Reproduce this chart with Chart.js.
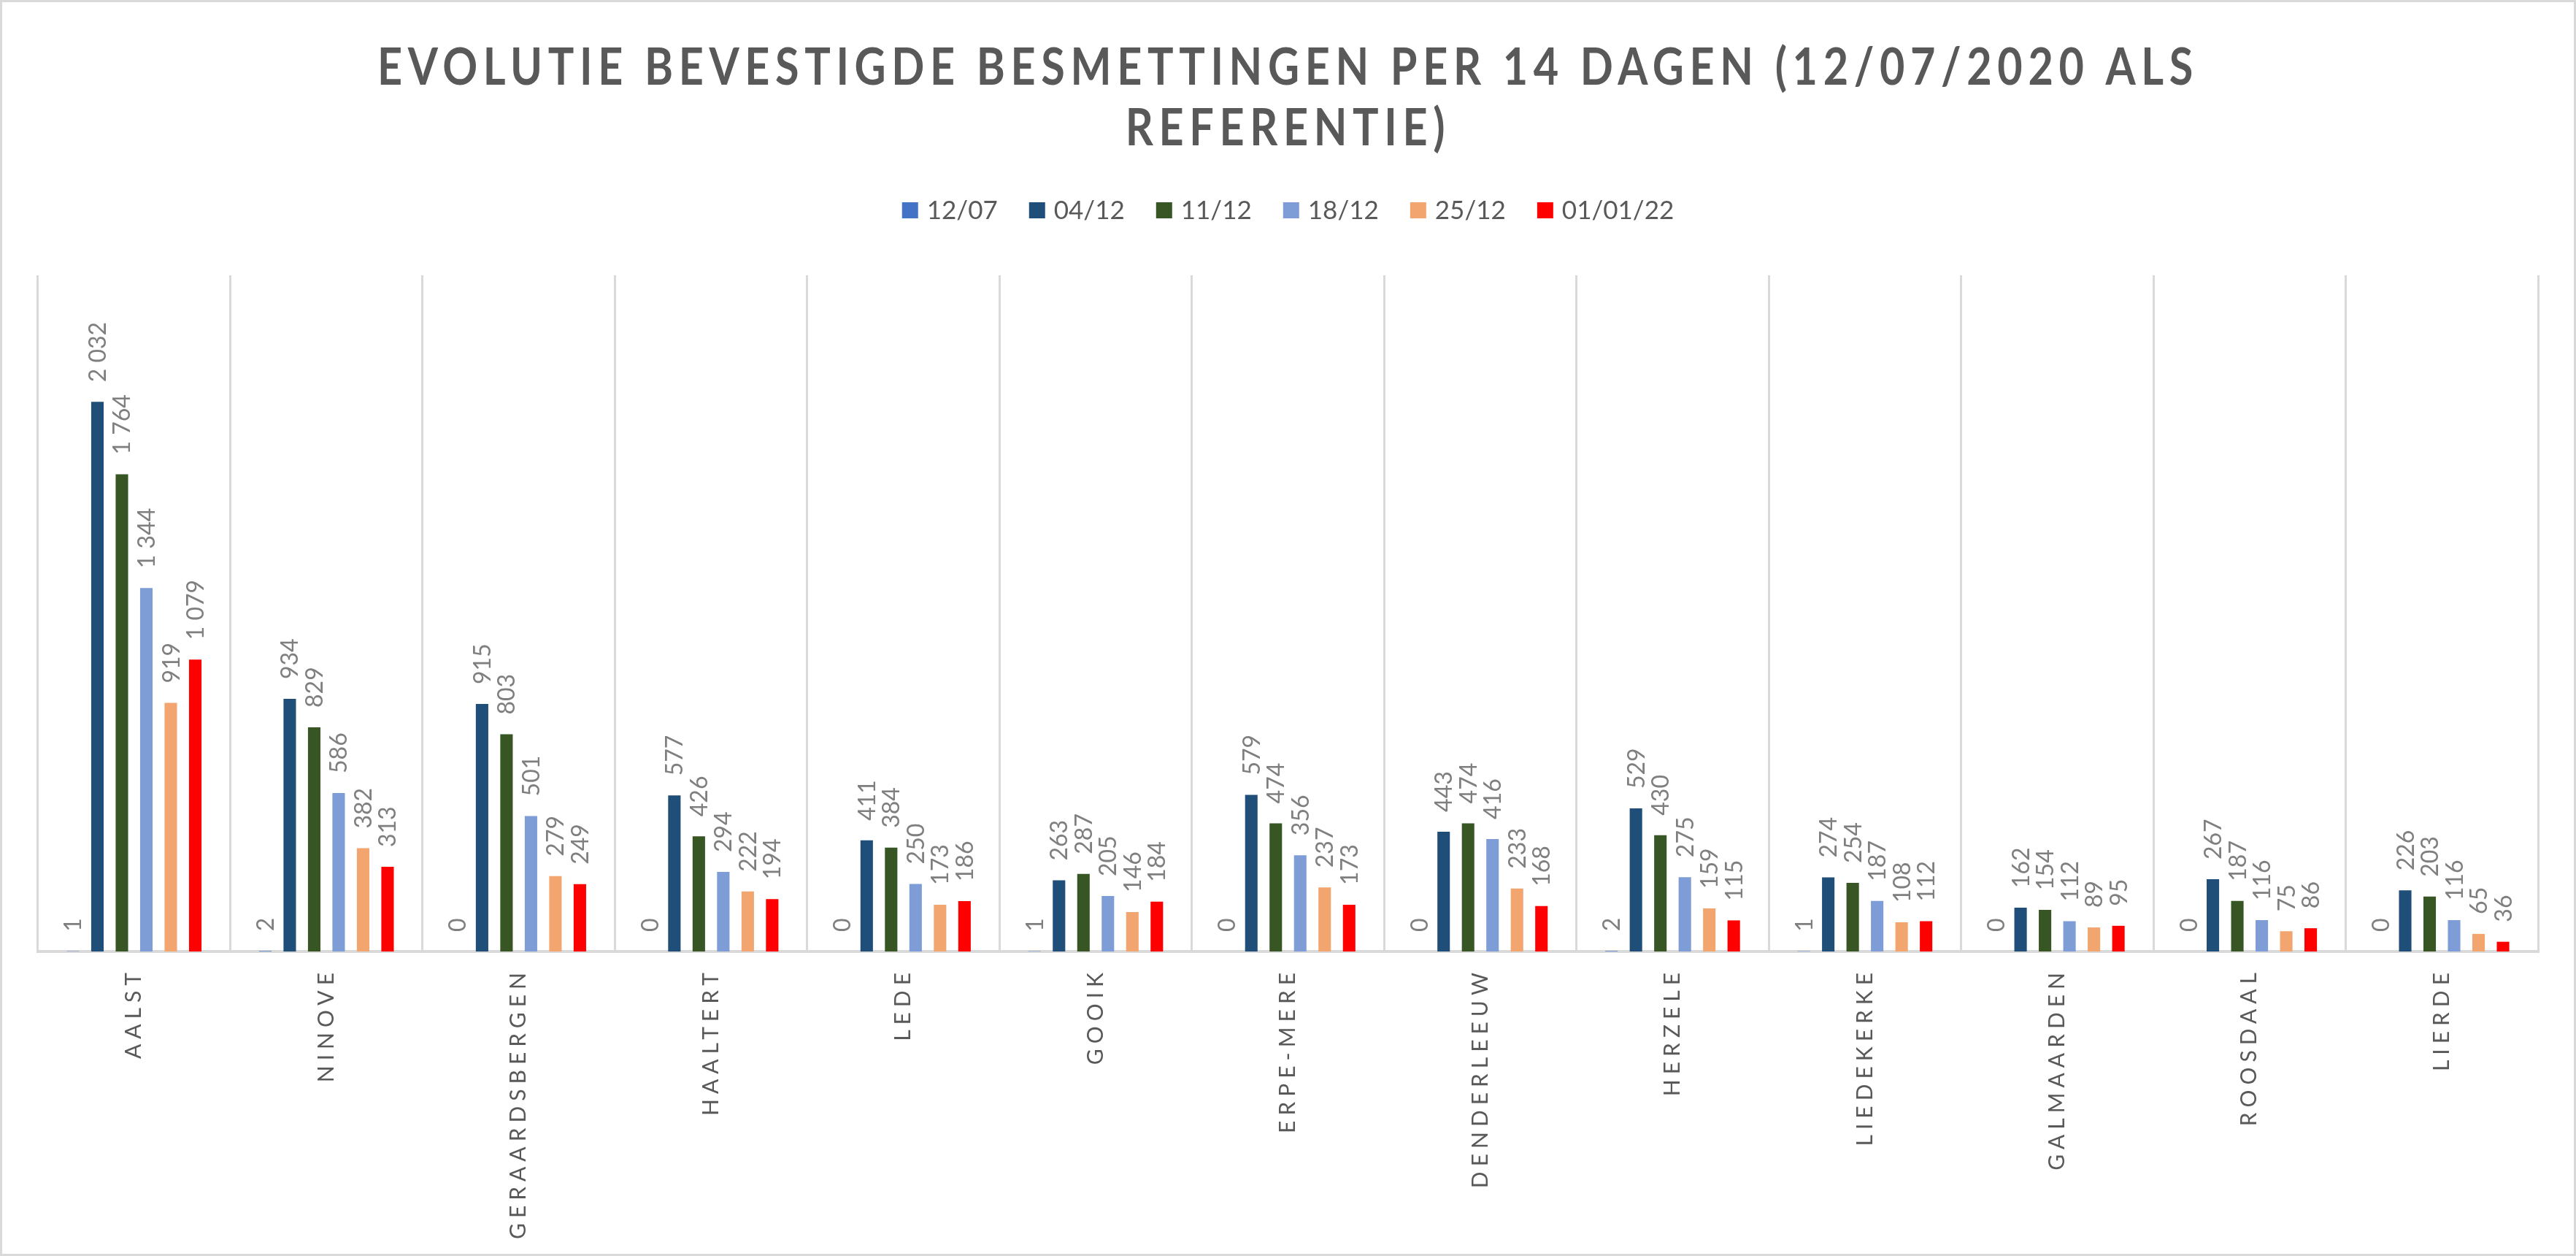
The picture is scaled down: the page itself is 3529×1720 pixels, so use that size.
<!DOCTYPE html>
<html>
<head>
<meta charset="utf-8">
<script src="https://cdn.jsdelivr.net/npm/chart.js@4.4.1/dist/chart.umd.min.js"></script>
<style>
  html, body { margin: 0; padding: 0; background: #ffffff; }
  #wrap { width: 3529px; height: 1720px; position: relative; }
</style>
</head>
<body>
<div id="wrap"><canvas id="chart"></canvas></div>
<script>
// --- data ---
const TITLE_LINES = ['EVOLUTIE BEVESTIGDE BESMETTINGEN PER 14 DAGEN (12/07/2020 ALS', 'REFERENTIE)']
const MUNICIPALITIES = ['AALST', 'NINOVE', 'GERAARDSBERGEN', 'HAALTERT', 'LEDE', 'GOOIK', 'ERPE-MERE',
  'DENDERLEEUW', 'HERZELE', 'LIEDEKERKE', 'GALMAARDEN', 'ROOSDAAL', 'LIERDE']
const SERIES_LABELS = ['12/07', '04/12', '11/12', '18/12', '25/12', '01/01/22']
const VALUES_12_07 = [1, 2, 0, 0, 0, 1, 0, 0, 2, 1, 0, 0, 0]
const VALUES_04_12 = [2032, 934, 915, 577, 411, 263, 579, 443, 529, 274, 162, 267, 226]
const VALUES_11_12 = [1764, 829, 803, 426, 384, 287, 474, 474, 430, 254, 154, 187, 203]
const VALUES_18_12 = [1344, 586, 501, 294, 250, 205, 356, 416, 275, 187, 112, 116, 116]
const VALUES_25_12 = [919, 382, 279, 222, 173, 146, 237, 233, 159, 108, 89, 75, 65]
const VALUES_01_01_22 = [1079, 313, 249, 194, 186, 184, 173, 168, 115, 112, 95, 86, 36]
const Y_MAX = 2500

// --- style ---
const SERIES_COLORS = ['#4472c4', '#1f4e79', '#375623', '#7e9dd6', '#f2a56e', '#ff0000']
const TEXT_DARK = '#595959'
const TEXT_LABEL = '#7f7f7f'
const GRID = '#d9d9d9'
const FONT = 'Lato, "Open Sans", sans-serif'

// category axis whose tick labels are letter-spaced like the original
const CategoryScale = Chart.registry.getScale('category')
class SpacedCategoryScale extends CategoryScale {
  static id = 'spacedCategory'
  drawLabels(chartArea) {
    const ctx = this.ctx
    ctx.save()
    ctx.letterSpacing = '7px'
    super.drawLabels(chartArea)
    ctx.restore()
  }
}
Chart.register(SpacedCategoryScale)

const formatValue = (v) => String(v).replace(/\B(?=(\d{3})+(?!\d))/g, ' ')

const frame = {
  id: 'frame',
  beforeDraw(chart) {
    const { ctx, width, height } = chart
    ctx.save()
    ctx.fillStyle = '#ffffff'
    ctx.fillRect(0, 0, width, height)
    ctx.restore()
  },
  afterDraw(chart) {
    const { ctx, width, height } = chart
    ctx.save()
    ctx.strokeStyle = GRID
    ctx.lineWidth = 3
    ctx.strokeRect(1.5, 1.5, width - 3, height - 3)
    ctx.restore()
  },
}

const header = {
  id: 'header',
  afterDraw(chart) {
    const ctx = chart.ctx
    const cx = chart.width / 2
    ctx.save()
    // title
    ctx.fillStyle = TEXT_DARK
    ctx.font = `bold 70px ${FONT}`
    ctx.letterSpacing = '9px'
    ctx.textAlign = 'center'
    ctx.textBaseline = 'alphabetic'
    const natural = ctx.measureText(TITLE_LINES[0]).width
    const sx = Math.min(1, 2495 / natural)
    ;[116, 199].forEach((y, i) => {
      ctx.save()
      ctx.translate(cx, y)
      ctx.scale(sx, 1)
      ctx.fillText(TITLE_LINES[i], 0, 0)
      ctx.restore()
    })

    // legend
    ctx.letterSpacing = '0px'
    ctx.font = `35px ${FONT}`
    ctx.textAlign = 'left'
    ctx.textBaseline = 'middle'
    const box = 22
    const gap = 12
    const pad = 43
    const widths = SERIES_LABELS.map((t) => box + gap + ctx.measureText(t).width)
    const total = widths.reduce((a, b) => a + b, 0) + pad * (widths.length - 1)
    let x = cx - total / 2
    const yMid = 288
    chart.data.datasets.forEach((ds, i) => {
      ctx.fillStyle = ds.backgroundColor
      ctx.fillRect(x, yMid - box / 2, box, box)
      ctx.fillStyle = TEXT_DARK
      ctx.fillText(ds.label, x + box + gap, yMid + 1)
      x += widths[i] + pad
    })
    ctx.restore()
  },
}

const valueLabels = {
  id: 'valueLabels',
  afterDatasetsDraw(chart) {
    const ctx = chart.ctx
    const size = 32
    ctx.save()
    ctx.font = `${size}px ${FONT}`
    ctx.fillStyle = TEXT_LABEL
    ctx.textAlign = 'left'
    ctx.textBaseline = 'alphabetic'
    chart.data.datasets.forEach((ds, di) => {
      const meta = chart.getDatasetMeta(di)
      meta.data.forEach((bar, i) => {
        ctx.save()
        ctx.translate(bar.x, bar.y - 27)
        ctx.rotate(-Math.PI / 2)
        ctx.fillText(formatValue(ds.data[i]), 0, size * 0.36)
        ctx.restore()
      })
    })
    ctx.restore()
  },
}

const seriesValues = [VALUES_12_07, VALUES_04_12, VALUES_11_12, VALUES_18_12, VALUES_25_12, VALUES_01_01_22]

new Chart(document.getElementById('chart'), {
  type: 'bar',
  data: {
    labels: MUNICIPALITIES,
    datasets: SERIES_LABELS.map((label, i) => ({
      label,
      data: seriesValues[i],
      backgroundColor: SERIES_COLORS[i],
      borderWidth: 0,
      categoryPercentage: 0.763,
      barPercentage: 0.51,
    })),
  },
  options: {
    responsive: true,
    maintainAspectRatio: false,
    devicePixelRatio: 1,
    animation: false,
    layout: { padding: { top: 377, left: 52, right: 52, bottom: 0 } },
    scales: {
      x: {
        type: 'spacedCategory',
        offset: true,
        grid: { display: true, offset: true, color: GRID, lineWidth: 3, drawTicks: false },
        border: { display: true, color: GRID, width: 4 },
        ticks: {
          color: TEXT_DARK,
          font: { family: FONT, size: 30 },
          minRotation: 90,
          maxRotation: 90,
          padding: 22,
          autoSkip: false,
        },
        afterFit(scale) { scale.height = 417 },
      },
      y: { display: false, min: 0, max: Y_MAX },
    },
    plugins: {
      legend: { display: false },
      title: { display: false },
      tooltip: { enabled: false },
    },
  },
  plugins: [frame, valueLabels, header],
})
</script>
</body>
</html>
